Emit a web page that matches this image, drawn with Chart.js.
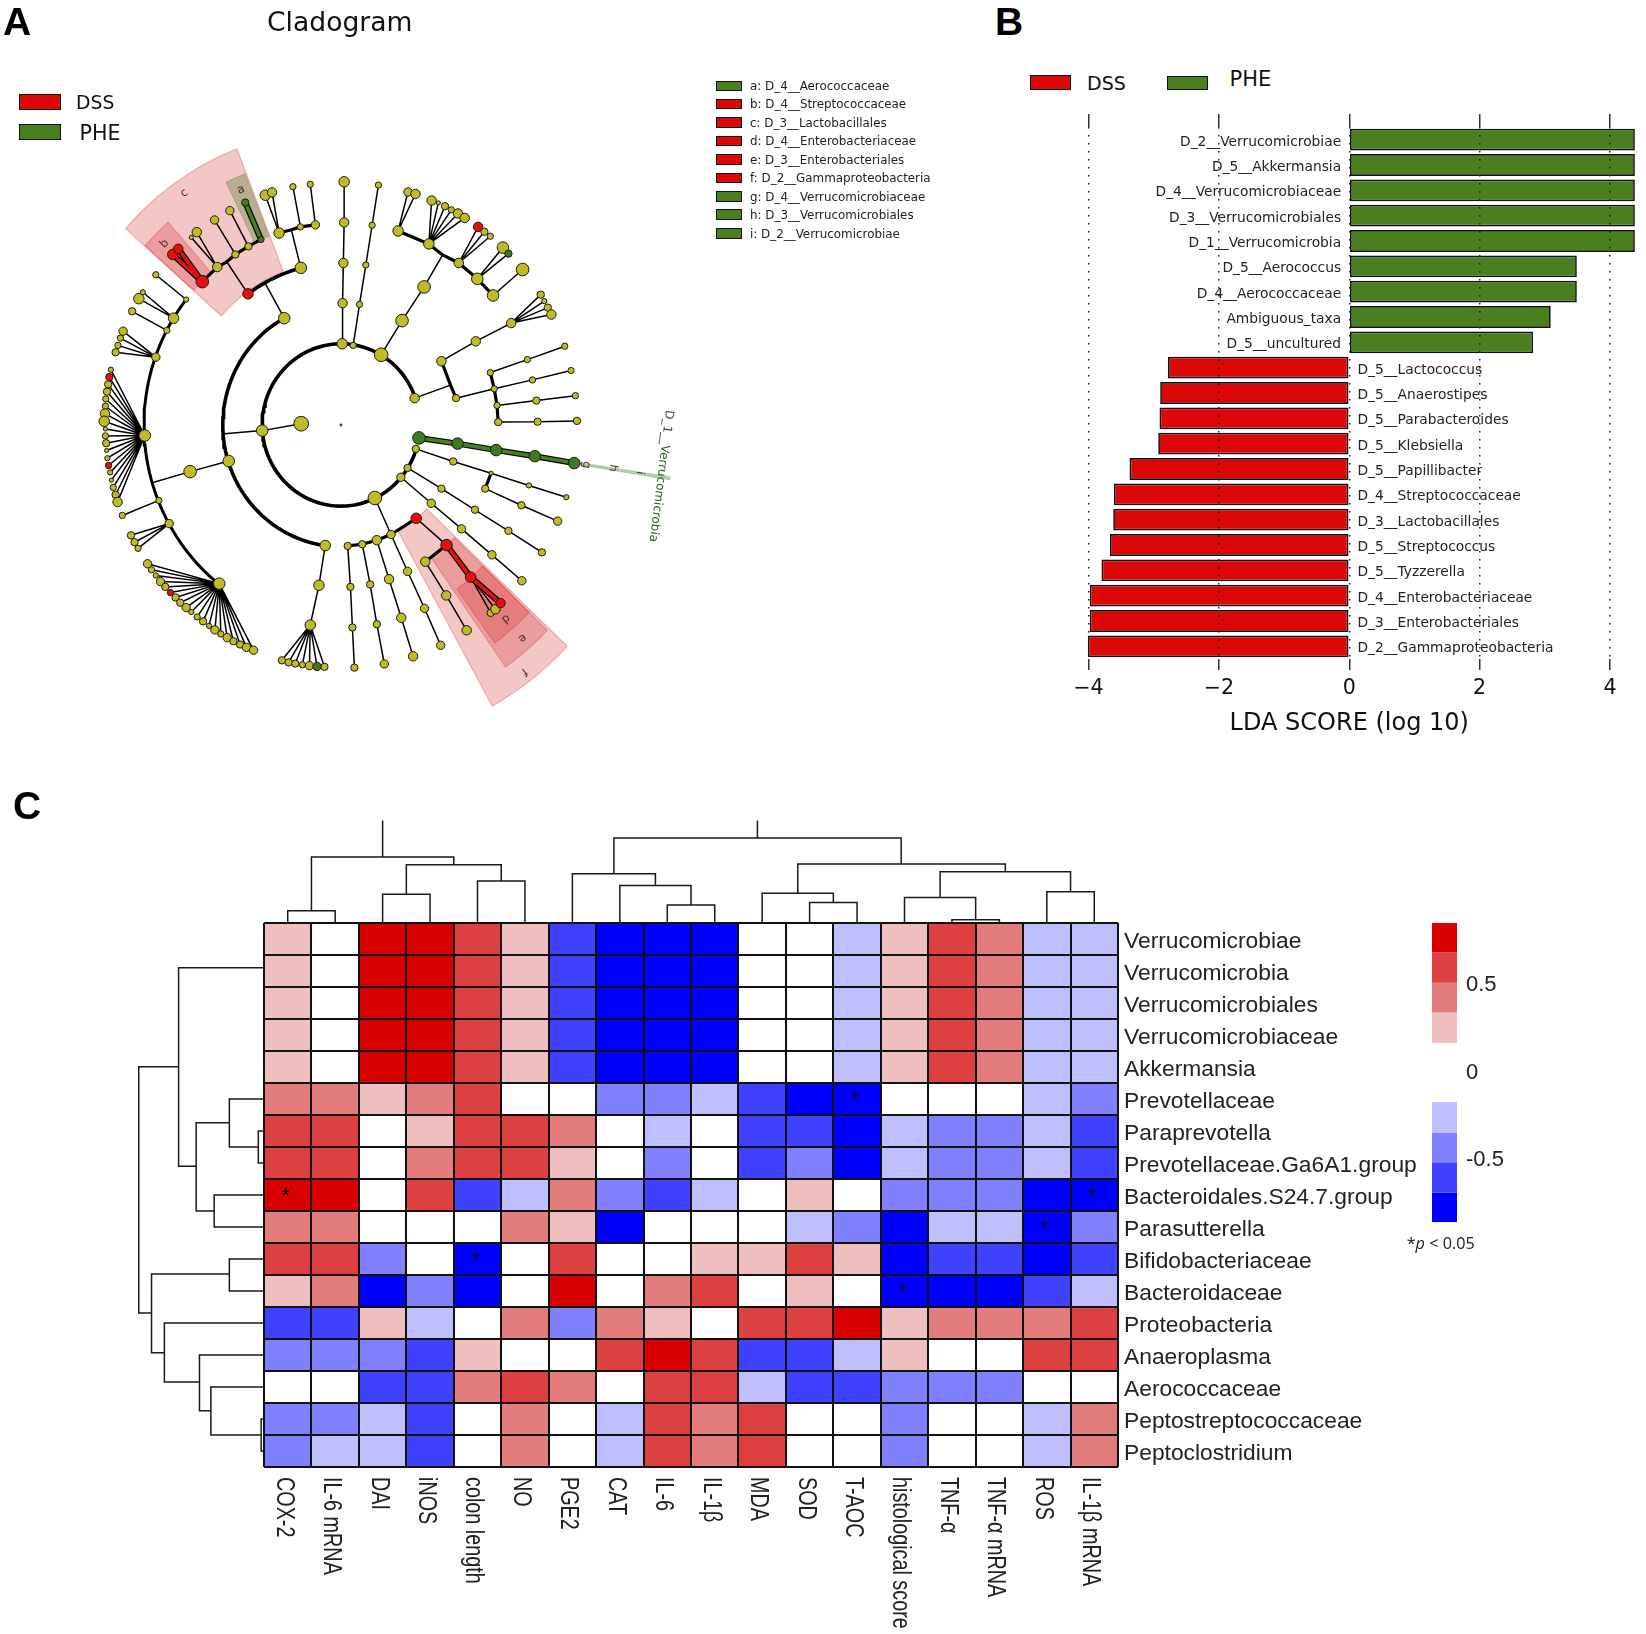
<!DOCTYPE html>
<html>
<head>
<meta charset="utf-8">
<title>Cladogram, LDA scores and correlation heatmap</title>
<script src="https://cdn.jsdelivr.net/npm/chart.js@4/dist/chart.umd.js"></script>
<style>
  html, body { margin: 0; padding: 0; background: #fff; }
  #page { position: relative; width: 1646px; height: 1634px; overflow: hidden; background: #fff; }
  #page canvas { position: absolute; }
  .txt { position: absolute; white-space: nowrap; transform: translateY(-50%); color: #111; font-family: "DejaVu Sans", sans-serif; }
  .swatch { position: absolute; box-sizing: border-box; border: 1.5px solid #111; }
</style>
</head>
<body>
<div id="page"></div>
<script>
/* ── panel B: LDA scores ─────────────────────────────────────────── */
const ldaTaxa = [
  'D_2__Verrucomicrobiae', 'D_5__Akkermansia', 'D_4__Verrucomicrobiaceae', 'D_3__Verrucomicrobiales',
  'D_1__Verrucomicrobia', 'D_5__Aerococcus', 'D_4__Aerococcaceae', 'Ambiguous_taxa', 'D_5__uncultured',
  'D_5__Lactococcus', 'D_5__Anaerostipes', 'D_5__Parabacteroides', 'D_5__Klebsiella', 'D_5__Papillibacter',
  'D_4__Streptococcaceae', 'D_3__Lactobacillales', 'D_5__Streptococcus', 'D_5__Tyzzerella',
  'D_4__Enterobacteriaceae', 'D_3__Enterobacteriales', 'D_2__Gammaproteobacteria'
];
const ldaScores = [
  4.38, 4.38, 4.38, 4.38, 4.38, 3.49, 3.49, 3.09, 2.82,
  -2.78, -2.9, -2.91, -2.93, -3.37, -3.61, -3.62, -3.67, -3.8, -3.98, -3.98, -4.01
];

/* ── panel C: heatmap, binned correlation levels -4 .. 4 ─────────── */
const heatColumns = [
  'COX-2', 'IL-6 mRNA', 'DAI', 'iNOS', 'colon length', 'NO', 'PGE2', 'CAT', 'IL-6', 'IL-1β', 'MDA', 'SOD',
  'T-AOC', 'histological score', 'TNF-α', 'TNF-α mRNA', 'ROS', 'IL-1β mRNA'
];
const heatRows = [
  'Verrucomicrobiae', 'Verrucomicrobia', 'Verrucomicrobiales', 'Verrucomicrobiaceae', 'Akkermansia',
  'Prevotellaceae', 'Paraprevotella', 'Prevotellaceae.Ga6A1.group', 'Bacteroidales.S24.7.group', 'Parasutterella',
  'Bifidobacteriaceae', 'Bacteroidaceae', 'Proteobacteria', 'Anaeroplasma', 'Aerococcaceae',
  'Peptostreptococcaceae', 'Peptoclostridium'
];
const heatLevels = [
  [1, 0, 4, 4, 3, 1, -3, -4, -4, -4, 0, 0, -1, 1, 3, 2, -1, -1],
  [1, 0, 4, 4, 3, 1, -3, -4, -4, -4, 0, 0, -1, 1, 3, 2, -1, -1],
  [1, 0, 4, 4, 3, 1, -3, -4, -4, -4, 0, 0, -1, 1, 3, 2, -1, -1],
  [1, 0, 4, 4, 3, 1, -3, -4, -4, -4, 0, 0, -1, 1, 3, 2, -1, -1],
  [1, 0, 4, 4, 3, 1, -3, -4, -4, -4, 0, 0, -1, 1, 3, 2, -1, -1],
  [2, 2, 1, 2, 3, 0, 0, -2, -2, -1, -3, -4, -4, 0, 0, 0, -1, -2],
  [3, 3, 0, 1, 3, 3, 2, 0, -1, 0, -3, -3, -4, -1, -2, -2, -1, -3],
  [3, 3, 0, 2, 3, 3, 1, 0, -2, 0, -3, -2, -4, -1, -2, -2, -1, -3],
  [4, 4, 0, 3, -3, -1, 2, -2, -3, -1, 0, 1, 0, -2, -2, -2, -4, -4],
  [2, 2, 0, 0, 0, 2, 1, -4, 0, 0, 0, -1, -2, -4, -1, -1, -4, -2],
  [3, 3, -2, 0, -4, 0, 3, 0, 0, 1, 1, 3, 1, -4, -3, -3, -4, -3],
  [1, 2, -4, -2, -4, 0, 4, 0, 2, 3, 0, 1, 0, -4, -4, -4, -3, -1],
  [-3, -3, 1, -1, 0, 2, -2, 2, 1, 0, 3, 3, 4, 1, 2, 2, 2, 3],
  [-2, -2, -2, -3, 1, 0, 0, 3, 4, 3, -3, -3, -1, 1, 0, 0, 3, 3],
  [0, 0, -3, -3, 2, 3, 2, 0, 3, 3, -1, -3, -3, -2, -2, -2, 0, 0],
  [-2, -2, -1, -3, 0, 2, 0, -1, 3, 2, 3, 0, 0, -2, 0, 0, -1, 2],
  [-2, -1, -1, -3, 0, 2, 0, -1, 3, 2, 3, 0, 0, -2, 0, 0, -1, 2]
];
// [row, column] of the cells marked with an asterisk
const heatStars = [[5, 12], [8, 0], [8, 17], [9, 16], [10, 4], [11, 13]];
const heatPalette = ['#0000FF', '#4040FF', '#8080FF', '#BFBFFF', '#FFFFFF', '#EFBFBF', '#E37D7D', '#DD4040', '#D90000'];

// dendrograms: [pos0, height0, pos1, height1, mergeHeight]
const colMerges = [
  [0, 0, 1, 0, 0.38], [2, 0, 3, 0, 0.9], [4, 0, 5, 0, 1.31], [2.5, 0.9, 4.5, 1.31, 1.82], [0.5, 0.38, 3.5, 1.82, 2.06],
  [8, 0, 9, 0, 0.56], [7, 0, 8.5, 0.56, 1.17], [6, 0, 7.75, 1.17, 1.54], [6.875, 1.54, 12.93, 1.84, 2.66],
  [11, 0, 12, 0, 0.64], [10, 0, 11.5, 0.64, 0.93], [14, 0, 15, 0, 0.1], [13, 0, 14.5, 0.1, 0.8], [16, 0, 17, 0, 0.98],
  [13.75, 0.8, 16.5, 0.98, 1.6], [10.75, 0.93, 15.125, 1.6, 1.84]
];
const colStems = [[2, 2.06, 3.2], [9.9, 2.66, 3.2]];
const rowMerges = [
  [6.5, -0.5, 7.5, -0.5, -0.62], [5.5, -0.5, 7, -0.62, -1.23], [8.5, -0.5, 9.5, -0.5, -1.55],
  [6.24, -1.23, 9, -1.55, -1.93], [1.4, -0.5, 7.6, -1.93, -2.3], [10.5, -0.5, 11.5, -0.5, -1.23],
  [15.5, -0.5, 16.5, -0.5, -0.56], [14.5, -0.5, 16, -0.56, -1.62], [13.5, -0.5, 15.24, -1.62, -1.86],
  [12.5, -0.5, 14.34, -1.86, -2.6], [10.97, -1.23, 13.43, -2.6, -2.87], [4.49, -2.3, 12.19, -2.87, -3.14]
];

// colour key of the heatmap
const keyEdges = [0.86, 0.69, 0.515, 0.345, 0.17, -0.17, -0.345, -0.515, -0.69, -0.86];
const keyColors = ['#D90000', '#DD4040', '#E37D7D', '#EFBFBF', '#FFFFFF', '#BFBFFF', '#8080FF', '#4040FF', '#0000FF'];
const keyTicks = [0.5, 0, -0.5];

/* ── panel A: cladogram, positions in tree levels from the root ──── */
const cladoLegend = [
  ['a: D_4__Aerococcaceae', 'P'], ['b: D_4__Streptococcaceae', 'D'], ['c: D_3__Lactobacillales', 'D'],
  ['d: D_4__Enterobacteriaceae', 'D'], ['e: D_3__Enterobacteriales', 'D'], ['f: D_2__Gammaproteobacteria', 'D'],
  ['g: D_4__Verrucomicrobiaceae', 'P'], ['h: D_3__Verrucomicrobiales', 'P'], ['i: D_2__Verrucomicrobiae', 'P']
];
// [level, fromAngle, toAngle, width], angles clockwise from north
const cladoArcs = [[2, 107.3, 430.6, 3.6], [3, 187.6, 331.3, 3.6], [4, 323.8, 345.2, 3.6], [5, 218.3, 308.2, 3]];
// [innerLevel, outerLevel, fromAngle, toAngle, group]
const cladoWedges = [
  [4.05, 7.3, 311.5, 338.8, 'D'], [3, 7.92, 133.5, 151, 'D'], [5, 6.65, 311.6, 318.7, 'D'], [5, 6.65, 334, 338.5, 'P'],
  [4, 7.28, 134, 145, 'D'], [5, 6.64, 134, 144, 'D'], [6.05, 8.45, 98.75, 99.2, 'P']
];
// [text, x, y, rotation]
const cladoLetters = [
  ['c', -3.98, 5.71, -36], ['a', -2.54, 5.79, -24], ['b', -4.48, 4.46, -45], ['d', 4.18, -4.77, 139], ['e', 4.6, -5.25, 139],
  ['f', 4.65, -6.08, 143], ['g', 6.22, -0.98, 99], ['h', 6.9, -1.06, 99], ['i', 7.58, -1.18, 99]
];

const n = (x, y, size, kids = [], group = '', branch = 0) => ({ x, y, size, kids, group, branch });

const cladoTree = [
  n(0, 0, 1),
  n(-1.01, 0.03, 7, [n(-2, -0.14, 5.5, [n(-2.95, -0.22, 0)])]),
  // north west, level 3 and 4 arcs
  n(-1.44, 2.63, 5.5, [n(-1.92, 3.48, 0)]),
  n(-2.36, 3.23, 5, [n(-2.9, 4.02, 0, [
    n(-3.14, 3.89, 4.5, [
      n(-3.66, 4.75, 4.5), n(-3.8, 4.62, 2),
      n(-3.52, 3.53, 6, [n(-4.27, 4.2, 5, [], 'D', 'D'), n(-4.13, 4.34, 4.5, [], 'D', 'D')], 'D', 3)
    ], '', 3),
    n(-2.68, 4.2, 3.5, [
      n(-3.21, 5.05, 4),
      n(-2.35, 4.4, 3.5, [
        n(-2.82, 5.28, 4),
        n(-2.03, 4.57, 3, [n(-2.43, 5.48, 3.5, [], 'P', 'P')], 'P', 3)
      ], '', 3)
    ], '', 3)
  ])], 'D'),
  n(-1.02, 3.87, 5.5, [n(-1.26, 4.81, 0, [
    n(-1.57, 4.73, 5, [n(-1.92, 5.66, 5), n(-1.75, 5.73, 4.5)], '', 3),
    n(-1.03, 4.88, 3, [
      n(-1.22, 5.87, 3),
      n(-0.65, 4.93, 4, [n(-0.78, 5.93, 3)], '', 3)
    ], '', 3)
  ])]),
  // north
  n(0.03, 2, 5, [n(0.04, 3, 4.5, [n(0.06, 3.99, 4.5, [n(0.08, 4.99, 4.5, [n(0.08, 5.99, 5)])])])]),
  n(0.31, 1.96, 3, [n(0.47, 2.97, 3, [n(0.63, 3.94, 3, [n(0.79, 4.92, 3, [n(0.95, 5.91, 3)])])])]),
  // north east
  n(1.02, 1.73, 6.5, [n(1.55, 2.57, 6, [n(2.11, 3.4, 6, [n(2.58, 4.19, 0, [
    n(2.23, 4.46, 5, [
      n(2.3, 5.53, 4.5), n(2.47, 5.47, 2), n(2.64, 5.39, 3.5), n(2.8, 5.3, 3), n(2.97, 5.21, 4.5), n(3.14, 5.1, 4.5),
      n(1.45, 4.78, 5, [n(1.7, 5.74, 4), n(1.89, 5.69, 4.5)], '', 3)
    ], '', 3),
    n(2.99, 3.99, 4.5, [
      n(3.48, 4.88, 4.5, [], 'D'), n(3.64, 4.76, 3.5), n(3.79, 4.65, 3),
      n(3.46, 3.6, 5.5, [
        n(4.11, 4.37, 5.5), n(4.25, 4.22, 3.5, [], 'P'),
        n(3.86, 3.19, 5.5, [n(4.61, 3.83, 6)], '', 3)
      ], '', 3)
    ], '', 3)
  ])])])]),
  // east
  n(1.87, 0.66, 4.5, [n(2.78, 0.98, 0, [
    n(2.55, 1.57, 4.5, [n(3.42, 2.06, 4.5, [n(4.32, 2.51, 4.5, [
      n(5.07, 3.21, 3.5), n(5.16, 3.05, 2.5), n(5.25, 2.89, 3.5), n(5.34, 2.72, 4.5)
    ])])], '', 3),
    n(2.92, 0.66, 3.5, [n(3.89, 0.89, 3, [
      n(3.79, 1.29, 3, [n(4.73, 1.61, 3, [n(5.68, 1.94, 3)])], '', 3),
      n(4.86, 1.11, 3, [n(5.84, 1.34, 3)]),
      n(3.96, 0.48, 3, [
        n(4.96, 0.6, 3.5, [n(5.95, 0.72, 3)]),
        n(3.99, 0.07, 3.5, [n(4.99, 0.08, 3.5, [n(5.99, 0.1, 3.5)])], '', 3)
      ], '', 3)
    ])], '', 3)
  ])]),
  // Verrucomicrobia
  n(1.98, -0.32, 6, [n(2.96, -0.46, 5.5, [n(3.94, -0.62, 5.5, [n(4.92, -0.77, 5.5, [n(5.92, -0.94, 5.5, [], 'P', 'P')], 'P', 'P')], 'P', 'P')], 'P', 'P')], 'P'),
  // south east
  n(1.9, -0.59, 3.5, [n(2.85, -0.9, 3.5, [n(3.81, -1.19, 2, [
    n(4.77, -1.49, 2.5, [n(5.72, -1.78, 2.5)]),
    n(3.66, -1.57, 3.5, [n(4.58, -1.98, 3.5, [n(5.5, -2.37, 4)])], '', 3)
  ])])]),
  n(1.69, -1.06, 3.5, [n(2.55, -1.57, 3.5, [n(3.4, -2.09, 3.5, [n(4.25, -2.61, 3.5, [n(5.1, -3.14, 3.5)])])])]),
  n(1.52, -1.29, 4, [n(2.29, -1.93, 4, [n(3.06, -2.56, 4, [n(3.83, -3.2, 4, [n(4.59, -3.84, 4)])])])]),
  n(0.86, -1.8, 6.5, [n(1.27, -2.7, 4, [
    n(1.69, -3.61, 4, [n(2.12, -4.52, 4, [n(2.53, -5.43, 4)])]),
    n(0.91, -2.84, 4.5, [
      n(1.22, -3.8, 4.5, [n(1.53, -4.75, 4.5, [n(1.83, -5.7, 4.5)])]),
      n(0.54, -2.94, 3.5, [
        n(0.74, -3.93, 3.5, [n(0.91, -4.91, 3.5, [n(1.1, -5.89, 4)])]),
        n(0.17, -2.98, 3.5, [n(0.24, -3.99, 3.5, [n(0.29, -4.99, 3.5, [n(0.34, -5.98, 3.5)])])], '', 3)
      ], '', 3)
    ], '', 3),
    n(1.91, -2.3, 5, [n(2.68, -2.96, 5.5, [
      n(2.14, -3.37, 4.5, [n(2.67, -4.2, 4.5, [n(3.19, -5.06, 4.5)])], '', 3),
      n(3.29, -3.75, 5, [
        n(3.8, -4.63, 3.5), n(3.92, -4.54, 4.5),
        n(4.05, -4.39, 4.5, [], 'D', 'D')
      ], 'D', 'D')
    ], 'D')], 'D', 3)
  ])]),
  // west, level 5 arc
  n(-2.85, -0.89, 5.5, [n(-3.83, -1.15, 6, [n(-4.75, -1.41, 0)])]),
  n(-3.93, 3.09, 2.5, [n(-4.7, 3.7, 3)]),
  n(-4.25, 2.63, 5, [n(-5.13, 3.11, 5), n(-5.03, 3.27, 2.5)]),
  n(-4.42, 2.33, 3, [n(-5.3, 2.8, 3.5)]),
  n(-4.7, 1.67, 4, [n(-5.53, 2.31, 4), n(-5.6, 2.14, 3), n(-5.66, 1.96, 3), n(-5.72, 1.79, 3.5)]),
  n(-4.98, -0.26, 5.5, [
    n(-5.84, 1.36, 2.5), n(-5.88, 1.18, 3.5, [], 'D'), n(-5.91, 1, 3.5), n(-5.94, 0.82, 3.5), n(-5.97, 0.64, 3),
    n(-5.98, 0.46, 3), n(-5.99, 0.28, 4.5), n(-6.01, 0.09, 5), n(-5.98, -0.1, 2), n(-5.98, -0.27, 3), n(-5.96, -0.45, 3.5),
    n(-5.95, -0.63, 2), n(-5.93, -0.82, 2.5), n(-5.9, -1, 3, [], 'D'), n(-5.86, -1.17, 2.5), n(-5.83, -1.36, 2),
    n(-5.78, -1.54, 3), n(-5.72, -1.72, 3.5), n(-5.67, -1.9, 4.5)
  ]),
  n(-4.62, -1.86, 3, [n(-5.55, -2.23, 3)]),
  n(-4.36, -2.43, 4, [n(-5.33, -2.72, 3.5), n(-5.24, -2.89, 3.5), n(-5.15, -3.04, 3)]),
  n(-3.09, -3.91, 5.5, [
    n(-4.91, -3.42, 4), n(-4.81, -3.57, 3), n(-4.7, -3.71, 2.5), n(-4.58, -3.86, 4), n(-4.46, -3.99, 3.5),
    n(-4.33, -4.13, 3, [], 'D'), n(-4.2, -4.25, 3.5), n(-4.08, -4.38, 3.5), n(-3.93, -4.5, 4), n(-3.8, -4.61, 2.5),
    n(-3.65, -4.73, 3), n(-3.5, -4.84, 3.5), n(-3.35, -4.95, 2.5), n(-3.2, -5.05, 4), n(-3.05, -5.15, 3),
    n(-2.89, -5.24, 4), n(-2.73, -5.33, 3.5), n(-2.56, -5.41, 3.5), n(-2.4, -5.48, 4), n(-2.22, -5.55, 4)
  ]),
  // south
  n(-0.4, -2.97, 5, [n(-0.56, -3.95, 5, [n(-0.78, -4.93, 5, [
    n(-1.5, -5.8, 3.5), n(-1.33, -5.85, 3.5), n(-1.16, -5.88, 3.5), n(-0.98, -5.91, 3), n(-0.8, -5.93, 4),
    n(-0.61, -5.95, 4, [], 'P'), n(-0.42, -5.96, 3.5)
  ])])])
];

/* ════════════════════════════════════════════════════════════════════
   SHARED
   ════════════════════════════════════════════════════════════════════ */
const RED = '#DC0707';
const GREEN = '#4A7E1F';
const YELLOW = '#BFBB27';
const SANS = '"DejaVu Sans", sans-serif';
const ARIAL = '"Liberation Sans", Arial, sans-serif';
const page = document.getElementById('page');

Chart.defaults.animation = false;
Chart.defaults.responsive = false;
Chart.defaults.events = [];
Chart.defaults.layout.autoPadding = false;
Chart.defaults.plugins.legend.display = false;
Chart.defaults.plugins.tooltip.enabled = false;

function addCanvas(left, top, width, height) {
  const c = document.createElement('canvas');
  c.width = width;
  c.height = height;
  c.style.cssText = `left:${left}px;top:${top}px;width:${width}px;height:${height}px`;
  page.appendChild(c);
  return c;
}

function addText(html, x, y, size, extra = '') {
  const d = document.createElement('div');
  d.className = 'txt';
  d.innerHTML = html;
  d.style.cssText = `left:${x}px;top:${y}px;font-size:${size}px;${extra}`;
  page.appendChild(d);
}

function addSwatch(x, y, w, h, color) {
  const d = document.createElement('div');
  d.className = 'swatch';
  d.style.cssText = `left:${x}px;top:${y}px;width:${w}px;height:${h}px;background:${color}`;
  page.appendChild(d);
}

/* ════════════════════════════════════════════════════════════════════
   PANEL A
   ════════════════════════════════════════════════════════════════════ */
const polar = (level, deg) => {
  const a = deg * Math.PI / 180;
  return { x: level * Math.sin(a), y: level * Math.cos(a) };
};

function collectClado() {
  const lists = { thin: [], thick: [], outline: [], D: [], P: [] };
  const nodes = { '': [], D: [], P: [] };
  const seg = (list, a, b) => list.push({ x: a.x, y: a.y }, { x: b.x, y: b.y }, { x: null, y: null });
  const walk = (node, parent) => {
    if (parent) {
      if (node.branch === 'D' || node.branch === 'P') {
        seg(lists.outline, parent, node);
        seg(lists[node.branch], parent, node);
      } else {
        seg(node.branch ? lists.thick : lists.thin, parent, node);
      }
    }
    if (node.size > 0) nodes[node.group].push(node);
    node.kids.forEach(k => walk(k, node));
  };
  cladoTree.forEach(t => walk(t, null));
  return { lists, nodes };
}

const wedgePlugin = {
  id: 'wedges',
  beforeDatasetsDraw(chart) {
    const { ctx, scales: { x, y } } = chart;
    ctx.save();
    cladoWedges.forEach(([r0, r1, a0, a1, group]) => {
      const pts = [];
      for (let a = a0; a <= a1; a += 1) pts.push(polar(r1, a));
      pts.push(polar(r1, a1));
      for (let a = a1; a >= a0; a -= 1) pts.push(polar(r0, a));
      pts.push(polar(r0, a0));
      ctx.beginPath();
      pts.forEach((p, i) => {
        const px = x.getPixelForValue(p.x);
        const py = y.getPixelForValue(p.y);
        if (i) ctx.lineTo(px, py); else ctx.moveTo(px, py);
      });
      ctx.closePath();
      ctx.fillStyle = group === 'D' ? 'rgba(210,30,30,0.25)' : 'rgba(60,120,30,0.32)';
      ctx.strokeStyle = group === 'D' ? 'rgba(210,30,30,0.28)' : 'rgba(60,120,30,0.25)';
      ctx.lineWidth = 1.2;
      ctx.fill();
      ctx.stroke();
    });
    ctx.restore();
  },
  afterDatasetsDraw(chart) {
    const { ctx, scales: { x, y } } = chart;
    ctx.save();
    ctx.textAlign = 'center';
    ctx.textBaseline = 'middle';
    ctx.fillStyle = '#4a2a2a';
    ctx.font = `11.5px ${SANS}`;
    cladoLetters.forEach(([t, lx, ly, rot]) => {
      ctx.save();
      ctx.translate(x.getPixelForValue(lx), y.getPixelForValue(ly));
      ctx.rotate(rot * Math.PI / 180);
      ctx.fillText(t, 0, 0);
      ctx.restore();
    });
    ctx.fillStyle = '#2f5a2a';
    ctx.font = `12px ${SANS}`;
    ctx.translate(x.getPixelForValue(8.12), y.getPixelForValue(-1.26));
    ctx.rotate(97 * Math.PI / 180);
    ctx.fillText('D_1__Verrucomicrobia', 0, 0);
    ctx.restore();
  }
};

function drawCladogram() {
  const { lists, nodes } = collectClado();
  const line = (data, color, width, order) => ({
    type: 'line', data, borderColor: color, borderWidth: width, pointRadius: 0, order,
    spanGaps: false, fill: false, borderCapStyle: 'butt'
  });
  const dots = (list, color) => ({
    type: 'scatter',
    data: list.map(p => ({ x: p.x, y: p.y })),
    backgroundColor: color, borderColor: '#1c1c10', borderWidth: 1,
    pointRadius: list.map(p => p.size * 1.05), order: color === YELLOW ? 1 : 0
  });
  const arcs = cladoArcs.map(([level, from, to, width]) => {
    const pts = [];
    for (let a = from; a < to; a += 2) pts.push(polar(level, a));
    pts.push(polar(level, to));
    return line(pts, '#000', width, 3);
  });
  new Chart(addCanvas(0, 0, 720, 720), {
    type: 'scatter',
    data: {
      datasets: [
        dots(nodes.D, '#E60F0F'), dots(nodes.P, '#3E7A22'), dots(nodes[''], YELLOW),
        line(lists.D, '#E01010', 3.6, 2), line(lists.P, '#4A7E1F', 3.6, 2),
        line(lists.outline, '#000', 6, 3),
        line(lists.thick, '#000', 3.2, 4), line(lists.thin, '#000', 1.5, 4),
        ...arcs
      ]
    },
    options: {
      layout: { padding: 0 },
      scales: {
        x: { type: 'linear', display: false, min: -8.655, max: 9.62 },
        y: { type: 'linear', display: false, min: -7.27, max: 10.47 }
      }
    },
    plugins: [wedgePlugin]
  });

  addText('Cladogram', 267, 21, 26.6);
  addSwatch(19, 94, 42, 16, RED);
  addSwatch(19, 124, 42, 15.5, GREEN);
  addText('DSS', 76, 102, 18.8);
  addText('PHE', 79.5, 133, 20.6);
  const legendY = [85.7, 103.7, 122.3, 140.7, 159, 177.7, 196, 214.3, 233];
  cladoLegend.forEach(([label, group], i) => {
    addSwatch(715.7, legendY[i] - 5, 26, 10.5, group === 'D' ? RED : GREEN);
    addText(label, 750, legendY[i] + 0.5, 11.9, 'color:#222');
  });
}

/* ════════════════════════════════════════════════════════════════════
   PANEL B
   ════════════════════════════════════════════════════════════════════ */
const ldaLabelPlugin = {
  id: 'ldaLabels',
  afterDraw(chart) {
    const { ctx, scales: { x, y } } = chart;
    ctx.save();
    ctx.font = `13.8px ${SANS}`;
    ctx.fillStyle = '#222';
    ctx.textBaseline = 'middle';
    ldaTaxa.forEach((taxon, i) => {
      const up = ldaScores[i] > 0;
      ctx.textAlign = up ? 'right' : 'left';
      ctx.fillText(taxon, x.getPixelForValue(up ? -0.125 : 0.125), y.getPixelForValue(i) + 2.5);
    });
    // axis title sits under the zero tick, not under the middle of the plot
    ctx.font = `24px ${SANS}`;
    ctx.fillStyle = '#111';
    ctx.textAlign = 'center';
    ctx.fillText('LDA SCORE (log 10)', x.getPixelForValue(0), chart.height - 16);
    ctx.restore();
  }
};

function drawLda() {
  new Chart(addCanvas(1040, 100, 606, 640), {
    type: 'bar',
    data: {
      labels: ldaTaxa,
      datasets: [{
        data: ldaScores,
        backgroundColor: ldaScores.map(v => (v > 0 ? GREEN : RED)),
        borderColor: '#111', borderWidth: 1.7, borderSkipped: false,
        barPercentage: 0.86, categoryPercentage: 1
      }]
    },
    options: {
      indexAxis: 'y',
      layout: { padding: { left: 45.2, right: 10.5, top: 14, bottom: 0 } },
      scales: {
        y: { type: 'category', display: false },
        x: {
          type: 'linear', min: -4.05, max: 4.39, position: 'bottom',
          grid: { color: '#222', lineWidth: 1.5, z: 1, tickLength: 11, tickColor: '#333' },
          border: { display: false, dash: [1.5, 6.5] },
          ticks: {
            stepSize: 2, includeBounds: false, maxRotation: 0, padding: 6, color: '#111',
            font: { family: SANS, size: 20.6 },
            callback: v => String(v).replace('-', '−')
          },
          afterFit: s => { s.height = 81; }
        },
        xTop: {
          type: 'linear', axis: 'x', min: -4.05, max: 4.39, position: 'top',
          grid: { drawOnChartArea: false, tickLength: 13, tickColor: '#333', lineWidth: 1.5 },
          border: { display: false },
          ticks: { stepSize: 2, includeBounds: false, display: false },
          afterFit: s => { s.height = 13; }
        }
      }
    },
    plugins: [ldaLabelPlugin]
  });

  addSwatch(1030, 75, 41, 15, RED);
  addSwatch(1166.5, 75.7, 41, 14.5, GREEN);
  addText('DSS', 1087, 82.7, 19);
  addText('PHE', 1229.6, 79, 21);
}

/* ════════════════════════════════════════════════════════════════════
   PANEL C
   ════════════════════════════════════════════════════════════════════ */
const heatExtras = {
  id: 'heatExtras',
  afterDraw(chart) {
    const { ctx, chartArea, scales: { x, y } } = chart;
    ctx.save();

    // dendrograms
    ctx.strokeStyle = '#1a1a1a';
    ctx.lineWidth = 1.5;
    ctx.beginPath();
    colMerges.forEach(([c0, h0, c1, h1, h]) => {
      ctx.moveTo(x.getPixelForValue(c0), y.getPixelForValue(-h0));
      ctx.lineTo(x.getPixelForValue(c0), y.getPixelForValue(-h));
      ctx.lineTo(x.getPixelForValue(c1), y.getPixelForValue(-h));
      ctx.lineTo(x.getPixelForValue(c1), y.getPixelForValue(-h1));
    });
    colStems.forEach(([c, h0, h1]) => {
      ctx.moveTo(x.getPixelForValue(c), y.getPixelForValue(-h0));
      ctx.lineTo(x.getPixelForValue(c), y.getPixelForValue(-h1));
    });
    rowMerges.forEach(([r0, d0, r1, d1, d]) => {
      ctx.moveTo(x.getPixelForValue(d0), y.getPixelForValue(r0));
      ctx.lineTo(x.getPixelForValue(d), y.getPixelForValue(r0));
      ctx.lineTo(x.getPixelForValue(d), y.getPixelForValue(r1));
      ctx.lineTo(x.getPixelForValue(d1), y.getPixelForValue(r1));
    });
    ctx.stroke();

    // asterisks
    ctx.fillStyle = '#111';
    ctx.font = `22px ${ARIAL}`;
    ctx.textAlign = 'center';
    ctx.textBaseline = 'middle';
    heatStars.forEach(([r, c]) => {
      ctx.fillText('*', x.getPixelForValue(c) - 2, y.getPixelForValue(r + 0.5) + 2);
    });

    // column labels read downwards, the axis itself cannot anchor them that way
    ctx.fillStyle = '#222';
    ctx.font = `19.8px ${ARIAL}`;
    ctx.textAlign = 'left';
    heatColumns.forEach((label, c) => {
      ctx.save();
      ctx.translate(x.getPixelForValue(c) - 4, chartArea.bottom + 10);
      ctx.rotate(Math.PI / 2);
      ctx.scale(1, 1.3);
      ctx.fillText(label, 0, 0);
      ctx.restore();
    });
    ctx.restore();
  }
};

function drawHeatmap() {
  const gridLine = { color: '#111', lineWidth: 2, z: 1, drawTicks: false };
  new Chart(addCanvas(0, 740, 1646, 894), {
    type: 'bar',
    data: {
      labels: heatColumns,
      datasets: heatRows.map((row, r) => ({
        label: row,
        xAxisID: 'x',
        yAxisID: 'y',
        data: heatColumns.map(() => 1),
        backgroundColor: heatLevels[r].map(v => heatPalette[v + 4]),
        borderWidth: 0, inflateAmount: 0,
        barPercentage: 1, categoryPercentage: 1
      }))
    },
    options: {
      layout: { padding: { left: 264, right: 0, top: 183, bottom: 167 } },
      scales: {
        x: {
          type: 'category', stacked: true,
          grid: { ...gridLine, offset: true }, border: { display: false },
          ticks: { display: false, autoSkip: false },
          afterFit: s => { s.height = 0; }
        },
        y: {
          type: 'linear', stacked: true, reverse: true, min: 0, max: 17, position: 'right',
          grid: { display: false, drawTicks: false }, border: { display: false },
          afterBuildTicks: s => { s.ticks = heatRows.map((_, i) => ({ value: i + 0.6 })); },
          ticks: {
            autoSkip: false, padding: 6, color: '#222', font: { family: ARIAL, size: 22.8 },
            callback: v => heatRows[Math.floor(v)]
          },
          afterFit: s => { s.width = 528; }
        },
        // row boundaries
        yGrid: {
          type: 'linear', axis: 'y', reverse: true, min: 0, max: 17, position: 'left',
          grid: gridLine, border: { display: false },
          ticks: { display: false, stepSize: 1, autoSkip: false },
          afterFit: s => { s.width = 0; }
        }
      }
    },
    plugins: [heatExtras]
  });
}

function drawKey() {
  // padding has to be larger than half a tick label, or the scale claims more room
  new Chart(addCanvas(1420, 892, 140, 361), {
    type: 'bar',
    data: {
      labels: ['key'],
      datasets: keyColors.map((color, i) => ({
        data: [[keyEdges[i + 1], keyEdges[i]]],
        backgroundColor: color, borderWidth: 0, inflateAmount: 0,
        barPercentage: 1, categoryPercentage: 1, grouped: false
      }))
    },
    options: {
      layout: { padding: { left: 12, right: 0, top: 30.7, bottom: 30.7 } },
      scales: {
        x: { type: 'category', display: false },
        y: {
          type: 'linear', min: -0.86, max: 0.86, position: 'right',
          grid: { display: false, drawTicks: false }, border: { display: false },
          afterBuildTicks: s => { s.ticks = keyTicks.map(value => ({ value })); },
          ticks: { padding: 9, color: '#222', font: { family: ARIAL, size: 22 }, callback: v => String(v) },
          afterFit: s => { s.width = 103; }
        }
      }
    }
  });
  addText('*<i>p</i> &lt; 0.05', 1406.7, 1243, 16.2, 'font-family:"Open Sans",sans-serif;color:#222');
}

drawCladogram();
drawLda();
drawHeatmap();
drawKey();

addText('A', 3, 22, 39, `font-family:${ARIAL.replace(/"/g, "'")};font-weight:bold;color:#000`);
addText('B', 995, 22, 39, `font-family:${ARIAL.replace(/"/g, "'")};font-weight:bold;color:#000`);
addText('C', 13, 806, 39, `font-family:${ARIAL.replace(/"/g, "'")};font-weight:bold;color:#000`);
</script>
</body>
</html>
